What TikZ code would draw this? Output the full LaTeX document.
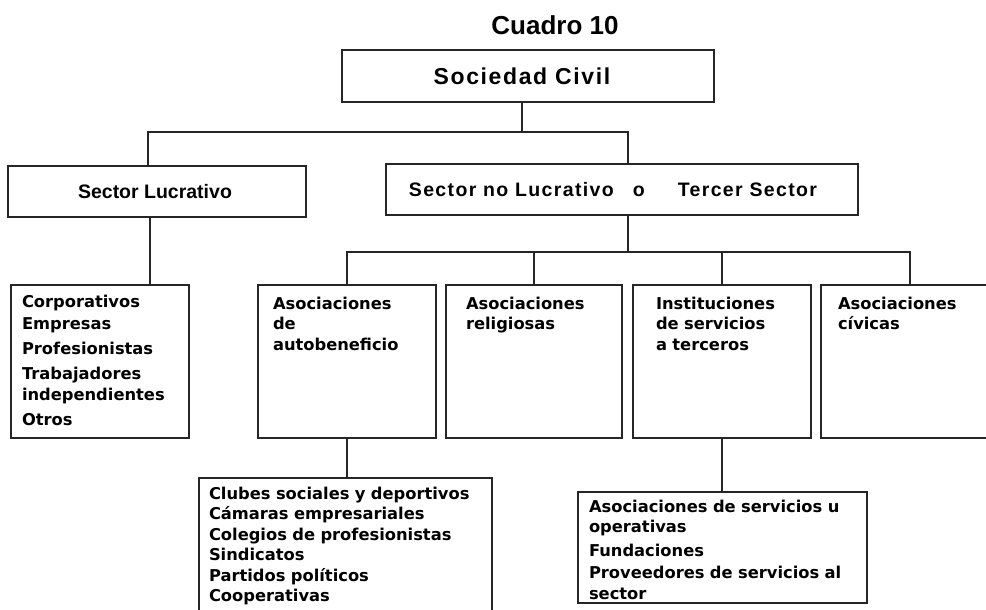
\documentclass[tikz,border=0pt]{standalone}
\usepackage{fontspec}
\usepackage{tikz}
\setmainfont{Liberation Sans}
\newfontfamily\cajafont{DejaVu Sans}
\newfontfamily\anchafont{Liberation Sans}[LetterSpace=7]

\begin{document}
\begin{tikzpicture}[x=1pt,y=-1pt]
            \useasboundingbox (0,0) rectangle (986,610);
            \tikzset{linea/.style={draw=black!85,line width=1.5pt}};
            \tikzset{cabeza/.style={linea,inner sep=0pt,outer sep=0pt,minimum height=51pt}};
            \tikzset{caja/.style={linea,inner sep=0pt,outer sep=0pt,anchor=north west,
                     font=\cajafont\bfseries\fontsize{16.3}{20.5}\selectfont}};
            \tikzset{nivel/.style={caja,text height=24pt,text depth=129pt}};

            \node[anchor=base,font=\bfseries\fontsize{26}{26}\selectfont] (cuadro) at (555,35){Cuadro 10};
            \node[cabeza,minimum width=372pt,minimum height=52pt,
                  font=\anchafont\bfseries\fontsize{23}{23}\selectfont] (soc) at (528,76){Sociedad Civil\hspace*{12pt}};

            \node[cabeza,minimum width=298pt,font=\bfseries\fontsize{19.5}{19.5}\selectfont] (sl) at (157,191.5){Sector Lucrativo\hspace*{4pt}};
            \node[cabeza,minimum width=472pt,font=\anchafont\bfseries\fontsize{19.5}{19.5}\selectfont] (snl) at (622,189.5)
                 {Sector no Lucrativo\hspace{19pt}o\hspace{33pt}Tercer Sector\hspace*{18pt}};

            \node[nivel,inner xsep=11pt,text width=156pt,text height=22pt,text depth=131pt] (corp) at (11,285)
                 {Corporativos\\[1.5pt]Empresas\\[4.5pt]Profesionistas\\[4.5pt]Trabajadores\\[0.5pt]independientes\\[4.5pt]Otros};
            \node[nivel,inner xsep=15pt,text width=148pt] (auto) at (258,285){Asociaciones\\de\\autobeneficio};
            \node[nivel,inner xsep=20pt,text width=136pt] (relig) at (446,285){Asociaciones\\religiosas};
            \node[nivel,inner xsep=23pt,text width=132pt] (inst) at (633,285){Instituciones\\de servicios\\a terceros};
            \node[nivel,inner xsep=17pt,text width=144pt] (civ) at (821,285){Asociaciones\\c\'ivicas};

            \node[caja,inner xsep=10pt,text width=273pt,text height=21pt,text depth=129pt] (clubes) at (199,478)
                 {Clubes sociales y deportivos\\C\'amaras empresariales\\Colegios de profesionistas\\Sindicatos\\Partidos pol\'iticos\\Cooperativas};
            \node[caja,inner xsep=11pt,text width=267pt,text height=20pt,text depth=91pt] (serv) at (578,492)
                 {Asociaciones de servicios u\\operativas\\[3.5pt]Fundaciones\\[1.5pt]Proveedores de servicios al\\sector};

            \coordinate (b1) at (522,132);
            \coordinate (b2) at (628,252);
            \path ([xshift=-7pt]sl.south) coordinate (sl1);

            \draw[linea] ([xshift=-6pt]soc.south) -- (b1);
            \draw[linea] ([xshift=-9pt]sl.north) |- (b1) -| ([xshift=6pt]snl.north);
            \draw[linea] (sl1) -- (sl1 |- corp.north);

            \draw[linea] ([xshift=6pt]snl.south) -- (b2);
            \draw[linea] (auto.north) |- (b2) -| (civ.north);
            \draw[linea] (relig.north) -- (relig.north |- b2);
            \draw[linea] (inst.north) -- (inst.north |- b2);

            \draw[linea] (auto.south) -- (auto.south |- clubes.north);
            \draw[linea] (inst.south) -- (inst.south |- serv.north);
\end{tikzpicture}
\end{document}
